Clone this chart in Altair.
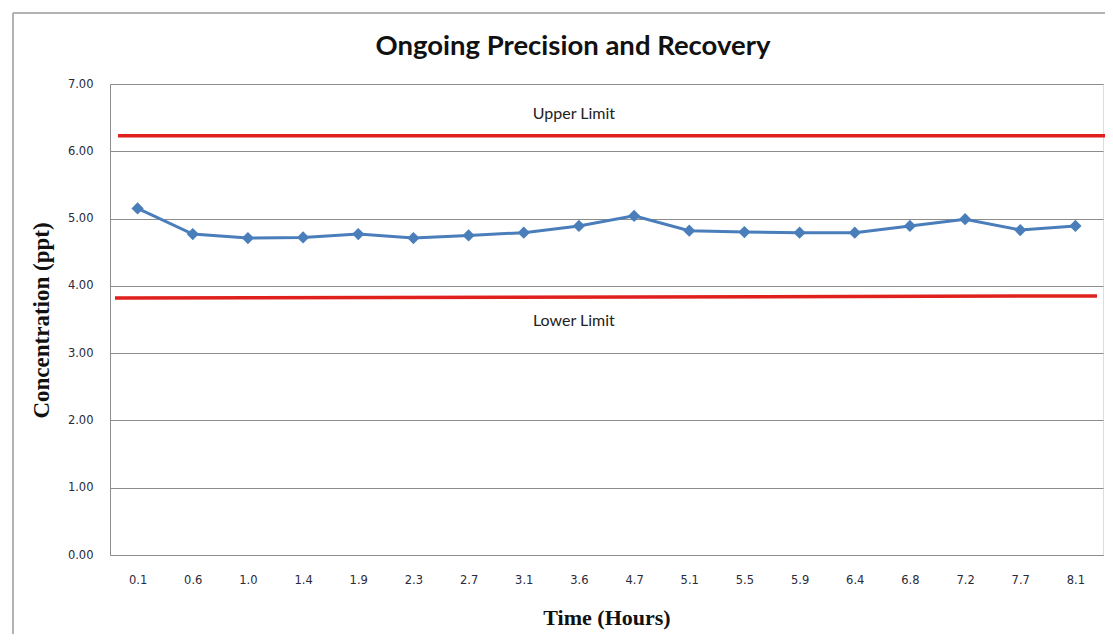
import altair as alt
import pandas as pd

times = ["0.1", "0.6", "1.0", "1.4", "1.9", "2.3", "2.7", "3.1", "3.6",
         "4.7", "5.1", "5.5", "5.9", "6.4", "6.8", "7.2", "7.7", "8.1"]
conc = [5.15, 4.77, 4.71, 4.72, 4.77, 4.71, 4.75, 4.79, 4.89,
        5.04, 4.82, 4.80, 4.79, 4.79, 4.89, 4.99, 4.83, 4.89]
upper_limit = 6.23
lower_limit = [3.82, 3.85]
limit_labels = ["Upper Limit", "Lower Limit"]
label_values = [6.55, 3.48]
chart_title = "Ongoing Precision and Recovery"

W, H = 993, 471

df = pd.DataFrame({"time": times, "conc": conc})
x_enc = alt.X("time:N", sort=times, title="Time  (Hours)",
              scale=alt.Scale(paddingInner=0, paddingOuter=0),
              axis=alt.Axis(labelAngle=0, ticks=False, grid=False, domain=True,
                            domainColor="#8c8c8c", labelPadding=19,
                            labelFont="DejaVu Sans", labelFontSize=11.5, labelColor="#2a2a3a",
                            titleFont="Liberation Serif", titleFontSize=22,
                            titleFontWeight="bold", titleColor="#111",
                            titleY=62, titleBaseline="middle"))
y_scale = alt.Scale(domain=[0, 7], nice=False, zero=True)
y_enc = alt.Y("conc:Q", title="Concentration (ppt)", scale=y_scale,
              axis=alt.Axis(values=[0, 1, 2, 3, 4, 5, 6, 7], format=".2f",
                            ticks=False, grid=True, gridColor="#8c8c8c",
                            domainColor="#8c8c8c", labelPadding=17,
                            labelFont="DejaVu Sans", labelFontSize=11.5, labelColor="#2a2a3a",
                            titleFont="Liberation Serif", titleFontSize=23,
                            titleFontWeight="bold", titleColor="#111",
                            titleX=-69, titleY=236, titleAngle=270,
                            titleAlign="center", titleBaseline="middle"))

base = alt.Chart(df)
line = base.mark_line(color="#4A7EBB", strokeWidth=3).encode(x=x_enc, y=y_enc)
pts = base.mark_point(shape="diamond", filled=True, opacity=1, size=150,
                      color="#4A7EBB").encode(x=alt.X("time:N", sort=times),
                                              y=alt.Y("conc:Q"))

up_df = pd.DataFrame({"v": [upper_limit]})
upper = alt.Chart(up_df).mark_rule(color="#E0201C", strokeWidth=3.5).encode(
    y=alt.Y("v:Q", scale=y_scale), x=alt.value(8), x2=alt.value(W + 2))
low_df = pd.DataFrame({"v": [lower_limit[0]], "v2": [lower_limit[1]]})
lower = alt.Chart(low_df).mark_rule(color="#E0201C", strokeWidth=3.5).encode(
    y=alt.Y("v:Q", scale=y_scale), y2="v2:Q", x=alt.value(5), x2=alt.value(W - 6))

lab_df = pd.DataFrame({"t": limit_labels, "v": label_values, "time": ["3.6", "3.6"]})
labels = alt.Chart(lab_df).mark_text(font="Lato", fontSize=16, color="#222",
                                     baseline="middle", dx=-5).encode(
    x=alt.X("time:N", sort=times), y=alt.Y("v:Q", scale=y_scale), text="t:N")

title_df = pd.DataFrame({"t": [chart_title]})
title = alt.Chart(title_df).mark_text(font="Lato", fontSize=27.5, fontWeight="bold",
                                      color="#111", baseline="middle",
                                      align="center").encode(
    text="t:N", x=alt.value(463), y=alt.value(-37))

frame_df = pd.DataFrame({"a": [0]})
frame_top = alt.Chart(frame_df).mark_rule(color="#9a9a9a", strokeWidth=1.5).encode(
    x=alt.value(-97), x2=alt.value(W + 10), y=alt.value(-71))
frame_left = alt.Chart(frame_df).mark_rule(color="#9a9a9a", strokeWidth=1.5).encode(
    x=alt.value(-97), y=alt.value(-71), y2=alt.value(H + 100))

chart = alt.layer(frame_top, frame_left, line, pts, upper, lower, labels, title).properties(
    width=W, height=H,
    autosize=alt.AutoSizeParams(type="none"),
    padding={"left": 102, "top": 76, "right": 2, "bottom": 79},
).configure_view(stroke=None).configure(background="white")

chart.save("out.html", embed_options={"renderer": "svg", "actions": False})
